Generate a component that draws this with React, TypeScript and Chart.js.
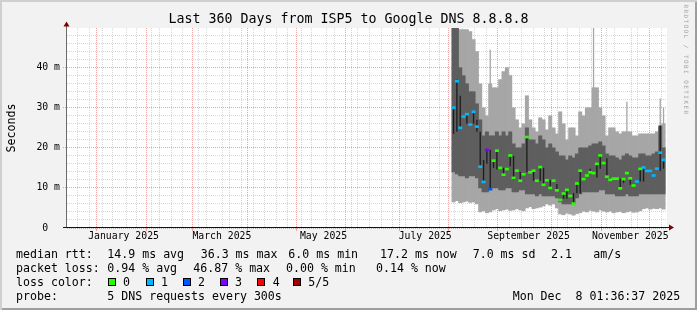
import React, { useEffect, useRef } from 'react';
import { Chart, registerables } from 'chart.js';

Chart.register(...registerables);

// ---------- time frame ----------
const DAY_MS = 86400000;
const END_TIME = Date.UTC(2025, 11, 8, 1, 36, 37);
const SPAN_DAYS = 360;
const START_TIME = END_TIME - SPAN_DAYS * DAY_MS;
const dayOf = (iso: string) => (Date.parse(iso + 'T00:00:00Z') - START_TIME) / DAY_MS;

// ---------- categories (2-day bins starting 2025-08-02) ----------
const FIRST_BIN = '2025-08-02';
const BIN_DAYS = 2;

// ---------- series values (ms) ----------
const LIGHT_HIGH = [50, 50, 49.5, 49.5, 49.5, 49, 47, 44, 36, 30,
  28, 36, 35, 35, 37, 39, 40, 38, 30, 27,
  25, 26, 33, 27, 25, 24, 27.5, 27, 24.5, 28,
  25, 23.5, 29, 26, 22, 25, 25, 23, 29, 28,
  30, 30, 35, 35, 30, 28, 23, 25, 25, 24,
  23.5, 24, 24, 24, 23, 23, 23.5, 23.5, 23.5, 23.5,
  23.5, 24, 25, 26];
const LIGHT_LOW = [6.5, 6.8, 6.3, 6.5, 6.7, 6.4, 6.5, 6, 4, 4.3,
  3.8, 4, 4.5, 4.8, 4.3, 4.5, 4.7, 4.4, 4.5, 4.8,
  4.5, 4.3, 5, 5.3, 4.8, 5, 5.2, 5.5, 6, 5.7,
  6, 5, 3.5, 3.3, 3.7, 3.5, 3.2, 3.6, 3.8, 4.2,
  4, 4.4, 4.2, 4, 4.5, 4.2, 4, 4.2, 3.8, 4,
  4.1, 3.8, 4, 4.2, 3.9, 4, 4.3, 4.8, 5, 4.7,
  4.9, 4.8, 5, 4.7];
const DARK_HIGH = [50, 50, 40, 38, 36, 34, 34, 31, 27, 23,
  24, 23, 23, 24, 23, 24, 23, 24, 21, 20,
  20, 21, 25, 22, 22, 21, 23, 22, 20, 21,
  20, 19, 18, 18, 17, 18, 17.5, 18.5, 20, 20,
  20, 20.5, 21, 21, 21.5, 20.5, 18.5, 18, 18, 17.5,
  17, 18, 18.5, 18, 17.5, 17.5, 18.5, 18.5, 18, 18,
  18.5, 19, 25.5, 20];
const DARK_LOW = [14, 13.5, 13, 13, 12.5, 13, 13, 12.5, 10, 9,
  9, 9.5, 10, 10, 9.5, 9.5, 10, 10, 9, 9,
  9.5, 9.5, 8.5, 8.5, 8.5, 8, 8.5, 8, 8, 8,
  8, 7.5, 6.5, 6, 6, 6, 6, 7.5, 8.5, 9,
  9, 9, 9, 9, 9.5, 9.5, 8.5, 8.5, 8.5, 8,
  8, 8, 8.5, 8, 8, 8, 8.5, 8.5, 8.5, 8.5,
  8.5, 8.5, 8.5, 8.5];
const CORE_LOW = [23.5, 24, 25, null, 26, null, 26, 24, 15, 11.5,
  16, 9.7, 15, 14.6, null, 13.3, null, 15.4, 12, null,
  11.8, null, 14, null, 11.8, null, 11.8, 10.8, null, 10,
  null, 9.4, null, 7.3, 7.3, null, 6.1, 8.7, 8.7, null,
  null, 13.9, null, 12.6, 14.8, null, 12.8, null, null, null,
  9.9, 11.2, null, 10.8, null, null, 11.6, 11.6, null, null,
  null, null, 14.3, 14.8];
const CORE_HIGH = [30, 37, 33, null, 28.4, null, 29, 27, 24, 17,
  19.5, 19.5, 17, 19.3, null, 15, null, 18.1, 18, null,
  14, null, 22.7, null, 14.3, null, 15.2, 15, null, 12,
  null, 11, null, 8.6, 9.5, null, 8.7, 11.1, 14.3, null,
  null, 14.8, null, 16, 18.1, null, 17.4, null, null, null,
  12.3, 12.2, null, 12.4, null, null, 14.75, 15.1, null, null,
  null, null, 25.5, 17];
const MEDIAN = [30, 36.6, 25, 27.8, 28.4, 25.8, 29, 25.3, 15.3, 11.5,
  19.5, 9.7, 16.8, 19.3, 15, 13.3, 14.7, 18.1, 12.5, 14.3,
  11.8, 13.4, 22.7, 13.9, 14.3, 11.8, 15.2, 10.8, 11.9, 10,
  11.8, 9.4, 7, 8.6, 9.5, 8, 6.1, 11.1, 14.3, 12.2,
  13.1, 13.9, 13.7, 16, 18.1, 16.2, 12.8, 12, 12.3, 12.3,
  9.9, 12.2, 13.7, 12.4, 10.6, 11.6, 14.75, 15.1, 14.25, 14.25,
  13.1, 14.8, 18.8, 17];
const LOSS = [1, 1, 1, 1, 1, 1, 1, 1, 1, 1,
  3, 2, 0, 0, 0, 0, 0, 0, 0, 0,
  0, 0, 0, 0, 0, 0, 0, 0, 0, 0,
  0, 0, 0, 0, 0, 0, 0, 0, 0, 0,
  0, 0, 0, 0, 0, 0, 0, 0, 0, 0,
  0, 0, 0, 0, 0, 1, 0, 1, 1, 1,
  1, 1, 1, 1];
const SPIKE_BINS = [11, 42, 52, 62, 63];
const SPIKE_TOPS = [44.5, 50, 31.5, 32.3, 30];

// ---------- legend / labels ----------
const TITLE = 'Last 360 Days from ISP5 to Google DNS 8.8.8.8';
const Y_TITLE = 'Seconds';
const WATERMARK = 'RRDTOOL / TOBI OETIKER';
const ROW_LABELS = ['median rtt:', 'packet loss:', 'loss color:', 'probe:'];
const RTT_STATS = ['14.9 ms avg', '36.3 ms max', '6.0 ms min', '17.2 ms now', '7.0 ms sd', '2.1', 'am/s'];
const LOSS_STATS = ['0.94 % avg', '46.87 % max', '0.00 % min', '0.14 % now'];
const LOSS_NAMES = ['0', '1', '2', '3', '4', '5/5'];
const LOSS_COLORS = ['#26ff00', '#00b8ff', '#0059ff', '#7e00ff', '#ff0000', '#a10000'];
const PROBE_TEXT = '5 DNS requests every 300s';
const STAMP = 'Mon Dec  8 01:36:37 2025';

const MONTH_STARTS = ['2025-01-01', '2025-02-01', '2025-03-01', '2025-04-01', '2025-05-01', '2025-06-01',
  '2025-07-01', '2025-08-01', '2025-09-01', '2025-10-01', '2025-11-01', '2025-12-01'];
const LABEL_MONTHS = ['2025-01-01', '2025-03-01', '2025-05-01', '2025-07-01', '2025-09-01', '2025-11-01'];
const MONTH_LABELS = ['January 2025', 'March 2025', 'May 2025', 'July 2025', 'September 2025', 'November 2025'];
const FIRST_MONDAY = '2024-12-16';

// ---------- layout constants ----------
const W = 697;
const H = 310;
const MONO = "'DejaVu Sans Mono', monospace";
const GRID = 'rgba(94,94,94,0.25)';
const MGRID = 'rgba(222,79,79,0.5)';
const CLEAR = 'rgba(0,0,0,0)';

// ---------- x ticks ----------
type XTick = { value: number; kind: 'minor' | 'major' | 'label'; text: string };
const X_TICKS: XTick[] = (() => {
  const out: XTick[] = [];
  const majors = MONTH_STARTS.map(dayOf);
  majors.forEach((v) => out.push({ value: v, kind: 'major', text: '' }));
  for (let d = dayOf(FIRST_MONDAY); d <= SPAN_DAYS; d += 7) {
    if (!majors.some((m) => Math.abs(m - d) < 0.01)) out.push({ value: d, kind: 'minor', text: '' });
  }
  LABEL_MONTHS.forEach((iso, i) => out.push({ value: dayOf(iso) + 15, kind: 'label', text: MONTH_LABELS[i] }));
  out.sort((a, b) => a.value - b.value);
  return out;
})();
const xKey = (v: number) => v.toFixed(4);
const X_TICK_MAP = new Map(X_TICKS.map((t) => [xKey(t.value), t]));
const xKind = (v: number) => X_TICK_MAP.get(xKey(v));

const BIN_X = MEDIAN.map((_, i) => dayOf(FIRST_BIN) + i * BIN_DAYS);

const framePlugin = {
  id: 'rrdFrame',
  beforeDraw(chart: any) {
    const { ctx, chartArea: a } = chart;
    ctx.save();
    ctx.fillStyle = '#ffffff';
    ctx.fillRect(a.left, a.top, a.right - a.left, a.bottom - a.top);
    ctx.restore();
  },
  afterDraw(chart: any) {
    const { ctx, chartArea: a } = chart;
    ctx.save();
    ctx.lineWidth = 1;
    ctx.setLineDash([]);
    ctx.strokeStyle = '#6a6a6a';
    ctx.beginPath();
    ctx.moveTo(a.left - 0.5, a.bottom);
    ctx.lineTo(a.left - 0.5, a.top - 2);
    ctx.stroke();
    ctx.strokeStyle = '#111111';
    ctx.beginPath();
    ctx.moveTo(a.left - 4, a.bottom - 0.5);
    ctx.lineTo(a.right + 2, a.bottom - 0.5);
    ctx.stroke();
    ctx.fillStyle = '#800000';
    ctx.beginPath();
    ctx.moveTo(a.left - 0.5, a.top - 6.5);
    ctx.lineTo(a.left - 3.5, a.top - 1.5);
    ctx.lineTo(a.left + 2.5, a.top - 1.5);
    ctx.closePath();
    ctx.fill();
    ctx.beginPath();
    ctx.moveTo(a.right + 7, a.bottom - 0.5);
    ctx.lineTo(a.right + 2, a.bottom - 3.5);
    ctx.lineTo(a.right + 2, a.bottom + 2.5);
    ctx.closePath();
    ctx.fill();
    ctx.restore();
  },
};

function buildConfig(): any {
  const range = (lo: (number | null)[], hi: (number | null)[]) =>
    BIN_X.map((x, i) => (lo[i] == null || hi[i] == null ? null : { x, y: [lo[i], hi[i]] })).filter(Boolean);
  const fullBar = { xAxisID: 'xd', grouped: false, barPercentage: 1, categoryPercentage: 1, borderWidth: 0, borderSkipped: false };
  const thinBar = { xAxisID: 'xd', grouped: false, barThickness: 1.3, inflateAmount: 0, borderWidth: 0, borderSkipped: false };
  return {
    type: 'bar',
    data: {
      datasets: [
        {
          ...fullBar,
          label: 'median',
          order: 0,
          data: BIN_X.map((x, i) => ({ x, y: [MEDIAN[i] - 0.25, MEDIAN[i] + 0.25] })),
          backgroundColor: LOSS.map((l) => LOSS_COLORS[l]),
        },
        { ...thinBar, label: 'core', order: 1, data: range(CORE_LOW, CORE_HIGH), backgroundColor: '#1c1c1c' },
        { ...fullBar, label: 'smoke inner', order: 2, data: range(DARK_LOW, DARK_HIGH), backgroundColor: '#5e5e5e' },
        {
          ...thinBar,
          label: 'smoke spikes',
          order: 3,
          data: SPIKE_BINS.map((b, i) => ({ x: BIN_X[b], y: [LIGHT_HIGH[b] - 1, SPIKE_TOPS[i]] })),
          backgroundColor: '#a6a6a6',
        },
        { ...fullBar, label: 'smoke outer', order: 4, data: range(LIGHT_LOW, LIGHT_HIGH), backgroundColor: '#a6a6a6' },
      ],
    },
    options: {
      animation: false,
      responsive: false,
      maintainAspectRatio: false,
      devicePixelRatio: 1,
      events: [],
      layout: { padding: { left: 0, top: 28, right: 30, bottom: 0 } },
      plugins: { legend: { display: false }, tooltip: { enabled: false }, title: { display: false } },
      scales: {
        xd: {
          type: 'linear',
          position: 'bottom',
          min: 0,
          max: SPAN_DAYS,
          offset: false,
          display: false,
        },
        x: {
          type: 'linear',
          position: 'bottom',
          min: 0,
          max: SPAN_DAYS,
          offset: false,
          z: 1,
          afterFit: (s: any) => { s.height = 82; },
          afterBuildTicks: (s: any) => { s.ticks = X_TICKS.map((t) => ({ value: t.value })); },
          ticks: {
            autoSkip: false,
            maxRotation: 0,
            minRotation: 0,
            padding: 0,
            color: '#000000',
            font: { family: MONO, size: 9.8 },
            callback: (v: number) => { const t = xKind(v); return t && t.kind === 'label' ? t.text : ''; },
          },
          grid: {
            lineWidth: 1,
            color: (c: any) => {
              const t = c.tick ? xKind(c.tick.value) : undefined;
              if (!t || t.kind === 'label') return CLEAR;
              return t.kind === 'major' ? MGRID : GRID;
            },
            tickLength: 3,
            tickWidth: 1,
            tickColor: (c: any) => {
              const t = c.tick ? xKind(c.tick.value) : undefined;
              return t && t.kind === 'major' ? MGRID : CLEAR;
            },
            tickBorderDash: [],
          },
          border: { display: false, dash: [1, 1] },
        },
        y: {
          type: 'linear',
          min: 0,
          max: 49.9,
          z: 1,
          afterFit: (s: any) => { s.width = 67; },
          ticks: {
            stepSize: 2,
            includeBounds: false,
            autoSkip: false,
            padding: 3,
            color: '#000000',
            font: { family: MONO, size: 9.8 },
            callback: (v: number) => (Math.round(v) % 10 === 0 ? (v === 0 ? '0  ' : `${v} m`) : ''),
          },
          grid: {
            lineWidth: 1,
            color: (c: any) => (c.tick && Math.round(c.tick.value) % 10 === 0 ? MGRID : GRID),
            tickLength: 4,
            tickWidth: 1,
            tickColor: (c: any) => (c.tick && c.tick.value > 0 && Math.round(c.tick.value) % 10 === 0 ? MGRID : CLEAR),
            tickBorderDash: [1, 1],
          },
          border: { display: false, dash: [1, 1] },
        },
      },
    },
    plugins: [framePlugin],
  };
}

const txt = (left: number, top: number, s: string, key: string, extra: React.CSSProperties = {}) => (
  <div
    key={key}
    style={{ position: 'absolute', left, top, fontFamily: MONO, fontSize: 11.6, lineHeight: '14px', whiteSpace: 'pre', color: '#000', ...extra }}
  >
    {s}
  </div>
);

export default function App() {
  const ref = useRef<HTMLCanvasElement | null>(null);
  useEffect(() => {
    document.body.style.margin = '0';
    const chart = new Chart(ref.current as HTMLCanvasElement, buildConfig());
    return () => chart.destroy();
  }, []);

  const rowTop = [246.5, 260.5, 274.5, 288.5];
  const rttX = [107.3, 200.7, 288.3, 380, 472.7, 551, 593.3];
  const lossX = [107.3, 193.3, 286, 376];
  const boxX = [108, 145.5, 182.5, 219.5, 256.5, 293];
  const boxLabelX = [123, 161, 198, 235, 272.7, 308.3];

  return (
    <div
      style={{
        position: 'relative',
        width: W,
        height: H,
        background: '#f2f2f2',
        boxShadow: 'inset 2px 2px 0 #cfcfcf, inset -2px -2px 0 #9e9e9e',
        overflow: 'hidden',
      }}
    >
      <canvas ref={ref} width={W} height={H} style={{ position: 'absolute', left: 0, top: 0, width: W, height: H }} />
      <div
        style={{
          position: 'absolute', left: 0, top: 11.4, width: W, textAlign: 'center', fontFamily: MONO,
          fontSize: 13.3, lineHeight: '16px', whiteSpace: 'pre', color: '#000',
        }}
      >
        {TITLE}
      </div>
      <div
        style={{
          position: 'absolute', left: 11.3 - 50, top: 128 - 7, width: 100, height: 14, textAlign: 'center',
          fontFamily: MONO, fontSize: 11.6, lineHeight: '14px', transform: 'rotate(-90deg)', color: '#000',
        }}
      >
        {Y_TITLE}
      </div>
      <div
        style={{
          position: 'absolute', left: 686.3 - 56, top: 59.5 - 4, width: 112, height: 8, textAlign: 'center',
          fontFamily: MONO, fontSize: 6, lineHeight: '8px', letterSpacing: '1.44px', whiteSpace: 'pre',
          transform: 'rotate(90deg)', color: '#a4a4a4',
        }}
      >
        {WATERMARK}
      </div>
      {ROW_LABELS.map((s, i) => txt(16, rowTop[i], s, 'row' + i))}
      {RTT_STATS.map((s, i) => txt(rttX[i], rowTop[0], s, 'rtt' + i))}
      {LOSS_STATS.map((s, i) => txt(lossX[i], rowTop[1], s, 'loss' + i))}
      {LOSS_NAMES.map((s, i) => (
        <React.Fragment key={'lc' + i}>
          <div
            style={{
              position: 'absolute', left: boxX[i], top: 278, width: 8, height: 8, boxSizing: 'border-box',
              border: '1px solid #000', background: LOSS_COLORS[i],
            }}
          />
          {txt(boxLabelX[i], rowTop[2], s, 'lcl' + i)}
        </React.Fragment>
      ))}
      {txt(107.3, rowTop[3], PROBE_TEXT, 'probe')}
      {txt(512.7, rowTop[3], STAMP, 'stamp')}
    </div>
  );
}
